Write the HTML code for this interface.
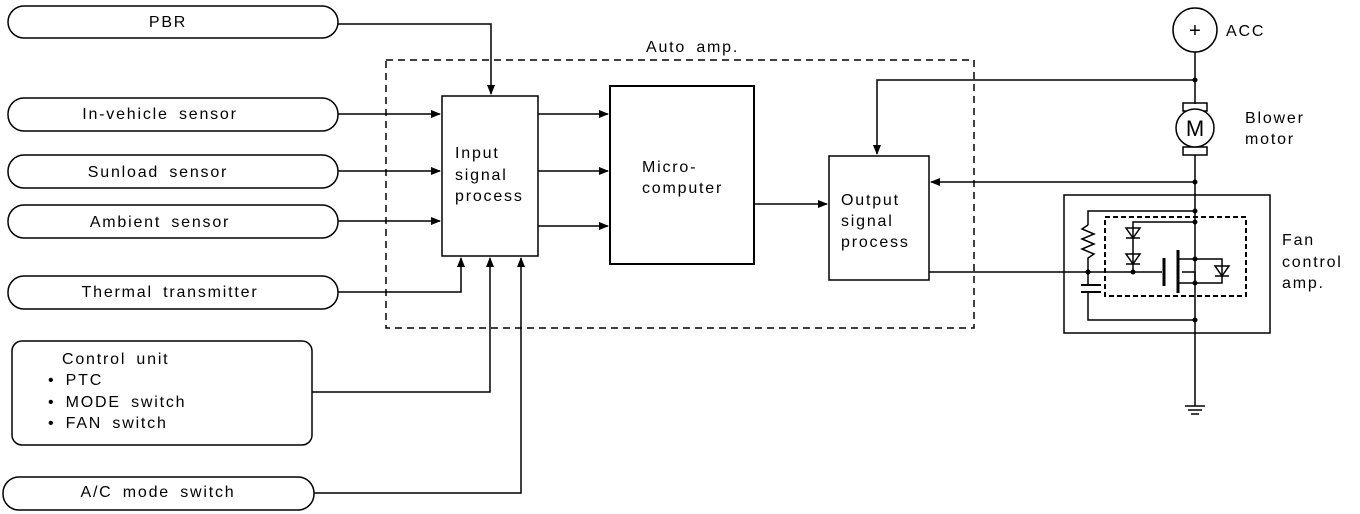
<!DOCTYPE html>
<html><head><meta charset="utf-8"><style>
html,body{margin:0;padding:0;background:#fff;width:1360px;height:514px;overflow:hidden}
svg text{font-family:"Liberation Sans",sans-serif;font-size:16px;fill:#000;letter-spacing:1.8px;word-spacing:4px}
</style></head><body>
<svg width="1360" height="514" viewBox="0 0 1360 514" xmlns="http://www.w3.org/2000/svg">
<defs><marker id="a" markerWidth="10" markerHeight="8" refX="9" refY="4" orient="auto" markerUnits="userSpaceOnUse"><path d="M0,0 L10,4 L0,8 z" fill="#000"/></marker></defs>
<g fill="none" stroke="#000" stroke-width="1.5">
<rect x="8" y="6" width="330" height="32" rx="16"/>
<rect x="8" y="98" width="330" height="33" rx="16"/>
<rect x="8" y="155" width="330" height="33" rx="16"/>
<rect x="8" y="205" width="330" height="33" rx="16"/>
<rect x="8" y="276" width="330" height="33" rx="16"/>
<rect x="12" y="341" width="300" height="104" rx="10"/>
<rect x="3" y="477" width="311" height="33" rx="16"/>
<rect x="386" y="60" width="588" height="268" stroke-dasharray="7,5"/>
<rect x="442" y="96" width="96" height="160"/>
<rect x="610" y="86" width="144" height="178" stroke-width="2"/>
<rect x="829" y="156" width="100" height="124"/>
<polyline points="338,24 491,24 491,94" marker-end="url(#a)"/>
<line x1="338" y1="114" x2="440" y2="114" marker-end="url(#a)"/>
<line x1="338" y1="171" x2="440" y2="171" marker-end="url(#a)"/>
<line x1="338" y1="221" x2="440" y2="221" marker-end="url(#a)"/>
<polyline points="338,292 461,292 461,258" marker-end="url(#a)"/>
<polyline points="312,392 490,392 490,258" marker-end="url(#a)"/>
<polyline points="314,493 521,493 521,258" marker-end="url(#a)"/>
<line x1="538" y1="114" x2="608" y2="114" marker-end="url(#a)"/>
<line x1="538" y1="171" x2="608" y2="171" marker-end="url(#a)"/>
<line x1="538" y1="226" x2="608" y2="226" marker-end="url(#a)"/>
<line x1="754" y1="204" x2="827" y2="204" marker-end="url(#a)"/>
<polyline points="1195,80 877,80 877,154" marker-end="url(#a)"/>
<line x1="1195" y1="182" x2="931" y2="182" marker-end="url(#a)"/>
<circle cx="1195" cy="30" r="22"/>
<line x1="1195" y1="52" x2="1195" y2="104"/>
<rect x="1183" y="103" width="24" height="8"/>
<rect x="1183" y="147" width="24" height="8"/>
<circle cx="1195" cy="128" r="19" fill="#fff"/>
<line x1="1195" y1="155" x2="1195" y2="406"/>
<line x1="1185" y1="406" x2="1205" y2="406"/><line x1="1188" y1="410" x2="1202" y2="410"/><line x1="1191" y1="414" x2="1199" y2="414"/>
<rect x="1064" y="195" width="206" height="138"/>
<rect x="1105" y="217" width="141" height="79" stroke-dasharray="5,3" stroke-width="2"/>
<polyline points="1195,211 1088,211 1088,225"/>
<polyline points="1088,225 1082,229 1094,234 1082,239 1094,244 1082,249 1094,254 1088,258 1088,285"/>
<line x1="1081" y1="285" x2="1101" y2="285" stroke-width="2"/><line x1="1081" y1="292" x2="1101" y2="292" stroke-width="2"/>
<polyline points="1088,292 1088,320 1195,320"/>
<line x1="929" y1="272" x2="1162" y2="272"/>
<polyline points="1195,222 1133,222 1133,272"/>
<path d="M1126,228 L1140,228 L1133,238 z M1126,238 L1140,238 M1126,254 L1140,254 L1133,264 z M1126,264 L1140,264"/>
<line x1="1164" y1="258" x2="1164" y2="286" stroke-width="3"/>
<line x1="1178" y1="250" x2="1178" y2="293" stroke-width="3"/>
<polyline points="1178,259 1195,259"/>
<polyline points="1178,283 1195,283 1195,272 1182,272"/>
<polyline points="1195,259 1222,259 1222,283 1195,283"/>
<path d="M1215,266 L1229,266 L1222,276 z M1215,276 L1229,276"/>
</g>
<g fill="#000">
<circle cx="1195" cy="80" r="2.5"/><circle cx="1195" cy="182" r="2.5"/><circle cx="1195" cy="211" r="2.5"/><circle cx="1195" cy="222" r="2.5"/><circle cx="1195" cy="259" r="2.5"/><circle cx="1195" cy="283" r="2.5"/><circle cx="1195" cy="320" r="2.5"/><circle cx="1088" cy="272" r="2.5"/><circle cx="1133" cy="272" r="2.5"/>
</g>
<text x="1195" y="37" text-anchor="middle" style="font-size:20px;letter-spacing:0">+</text>
<text x="1195" y="136" text-anchor="middle" style="font-size:22px;letter-spacing:0">M</text>
<text x="168" y="27" text-anchor="middle">PBR</text>
<text x="160" y="119" text-anchor="middle">In-vehicle sensor</text>
<text x="158" y="177" text-anchor="middle">Sunload sensor</text>
<text x="160" y="227" text-anchor="middle">Ambient sensor</text>
<text x="170" y="297" text-anchor="middle">Thermal transmitter</text>
<text x="62" y="364">Control unit</text>
<text x="48" y="385">• PTC</text>
<text x="48" y="407">• MODE switch</text>
<text x="48" y="428">• FAN switch</text>
<text x="158" y="497" text-anchor="middle">A/C mode switch</text>
<text x="646" y="52">Auto amp.</text>
<text x="455" y="158">Input</text><text x="455" y="180">signal</text><text x="455" y="201">process</text>
<text x="642" y="172">Micro-</text><text x="642" y="193">computer</text>
<text x="841" y="205">Output</text><text x="841" y="226">signal</text><text x="841" y="247">process</text>
<text x="1226" y="36">ACC</text>
<text x="1245" y="123">Blower</text><text x="1245" y="144">motor</text>
<text x="1282" y="245">Fan</text><text x="1282" y="267">control</text><text x="1282" y="288">amp.</text>
</svg>
</body></html>
